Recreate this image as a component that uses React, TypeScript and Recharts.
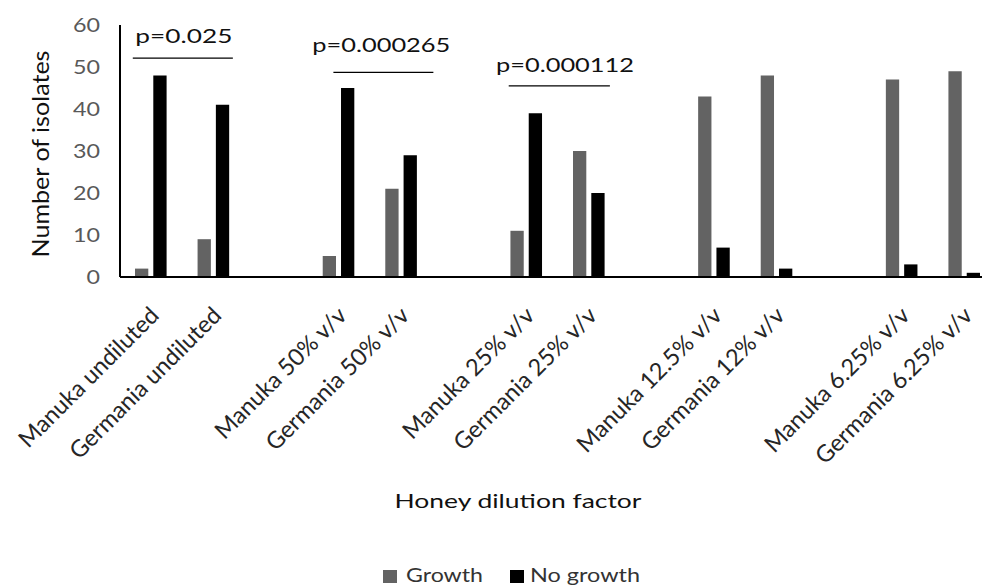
import React from 'react';
import { BarChart, Bar, XAxis, YAxis, ReferenceLine, Customized } from 'recharts';

// ---- data ----
const categories = [
  'Manuka undiluted', 'Germania undiluted', ' ',
  'Manuka 50% v/v', 'Germania 50% v/v', '  ',
  'Manuka 25% v/v', 'Germania 25% v/v', '   ',
  'Manuka 12.5% v/v', 'Germania 12% v/v', '    ',
  'Manuka 6.25% v/v', 'Germania 6.25% v/v',
];
const growth = [2, 9, null, 5, 21, null, 11, 30, null, 43, 48, null, 47, 49];
const noGrowth = [48, 41, null, 45, 29, null, 39, 20, null, 7, 2, null, 3, 1];
const yTicks = [0, 10, 20, 30, 40, 50, 60];
const seriesNames = ['Growth', 'No growth'];

const pLabels = ['p=0.025', 'p=0.000265', 'p=0.000112'];
const pFrom = ['Manuka undiluted', 'Manuka 50% v/v', 'Manuka 25% v/v'];
const pTo = ['Germania undiluted', 'Germania 50% v/v', 'Germania 25% v/v'];
const pLineLevel = [52.1, 48.7, 45.5];
const pTextLevel = [55.6, 53.5, 48.7];

// ---- layout/style (not data) ----
const annotationOffsets = [
  { l: -18.5, r: 19, t: 1.3, w: 97 },
  { l: -5.6, r: 31.8, t: 11, w: 138 },
  { l: -18, r: 20.6, t: 7, w: 138 },
];

const FONT = 'Lato, "Open Sans", sans-serif';
const COLORS = ['#636363', '#000000'];

const data = categories.map((c, i) => ({ name: c, growth: growth[i], noGrowth: noGrowth[i] }));

const XTick = (props: any) => {
  const { x, y, payload } = props;
  const label = String(payload?.value ?? '').trim();
  if (!label) return null;
  const ax = x + 9;
  const ay = y + 32;
  return (
    <text
      x={ax}
      y={ay}
      transform={`rotate(-45 ${ax} ${ay})`}
      textAnchor="end"
      fontFamily={FONT}
      fontSize={23.5}
      fill="#262626"
    >
      {label}
    </text>
  );
};

const YTick = (props: any) => {
  const { x, y, payload } = props;
  const s = String(payload.value);
  return (
    <text
      x={x}
      y={y}
      dy={7}
      textAnchor="end"
      fontFamily={FONT}
      fontSize={20}
      fill="#595959"
      textLength={s.length * 13.5}
      lengthAdjust="spacingAndGlyphs"
    >
      {s}
    </text>
  );
};

const Decorations = () => (
  <g>
    <text
      x={518}
      y={508}
      textAnchor="middle"
      fontFamily={FONT}
      fontSize={20}
      fill="#111"
      textLength={247}
      lengthAdjust="spacingAndGlyphs"
    >
      Honey dilution factor
    </text>
    <text
      x={49}
      y={154}
      transform="rotate(-90 49 154)"
      textAnchor="middle"
      fontFamily={FONT}
      fontSize={23}
      fill="#111"
      textLength={207}
      lengthAdjust="spacingAndGlyphs"
    >
      Number of isolates
    </text>
    {/* legend */}
    <rect x={383} y={570} width={14} height={13} fill={COLORS[0]} />
    <text x={406} y={582} fontFamily={FONT} fontSize={20} fill="#333" textLength={77} lengthAdjust="spacingAndGlyphs">
      {seriesNames[0]}
    </text>
    <rect x={510} y={570} width={14} height={13} fill={COLORS[1]} />
    <text x={530} y={582} fontFamily={FONT} fontSize={20} fill="#333" textLength={110} lengthAdjust="spacingAndGlyphs">
      {seriesNames[1]}
    </text>
  </g>
);

export default function App() {
  return (
    <div style={{ position: 'absolute', left: 0, top: 0, width: 982, height: 587, overflow: 'hidden', background: '#fff' }}>
      <BarChart
        width={1000}
        height={587}
        data={data}
        margin={{ top: 25, right: 4, left: 60, bottom: 110 }}
        barGap={5}
        barSize={13.3}
      >
        <XAxis
          dataKey="name"
          interval={0}
          tickLine={false}
          axisLine={{ stroke: '#000', strokeWidth: 2 }}
          tick={<XTick />}
          height={200}
        />
        <YAxis
          domain={[0, 60]}
          ticks={yTicks}
          width={60}
          tickLine={false}
          tickSize={6}
          tickMargin={14}
          axisLine={{ stroke: '#000', strokeWidth: 2 }}
          tick={<YTick />}
        />
        <Bar dataKey="growth" name={seriesNames[0]} fill={COLORS[0]} isAnimationActive={false} />
        <Bar dataKey="noGrowth" name={seriesNames[1]} fill={COLORS[1]} isAnimationActive={false} />
        {pLabels.map((lab, i) => (
          <ReferenceLine
            key={'l' + i}
            segment={[{ x: pFrom[i], y: pLineLevel[i] }, { x: pTo[i], y: pLineLevel[i] }]}
            shape={(p: any) => (
              <line
                x1={p.x1 + annotationOffsets[i].l}
                x2={p.x2 + annotationOffsets[i].r}
                y1={p.y1}
                y2={p.y2}
                stroke="#000"
                strokeWidth={1.2}
              />
            )}
          />
        ))}
        {pLabels.map((lab, i) => (
          <ReferenceLine
            key={'t' + i}
            segment={[{ x: pFrom[i], y: pTextLevel[i] }, { x: pTo[i], y: pTextLevel[i] }]}
            shape={(p: any) => (
              <text
                x={(p.x1 + p.x2) / 2 + annotationOffsets[i].t}
                y={p.y1}
                textAnchor="middle"
                fontFamily={FONT}
                fontSize={20}
                fill="#111"
                textLength={annotationOffsets[i].w}
                lengthAdjust="spacingAndGlyphs"
              >
                {lab}
              </text>
            )}
          />
        ))}
        <Customized component={Decorations} />
      </BarChart>
    </div>
  );
}
